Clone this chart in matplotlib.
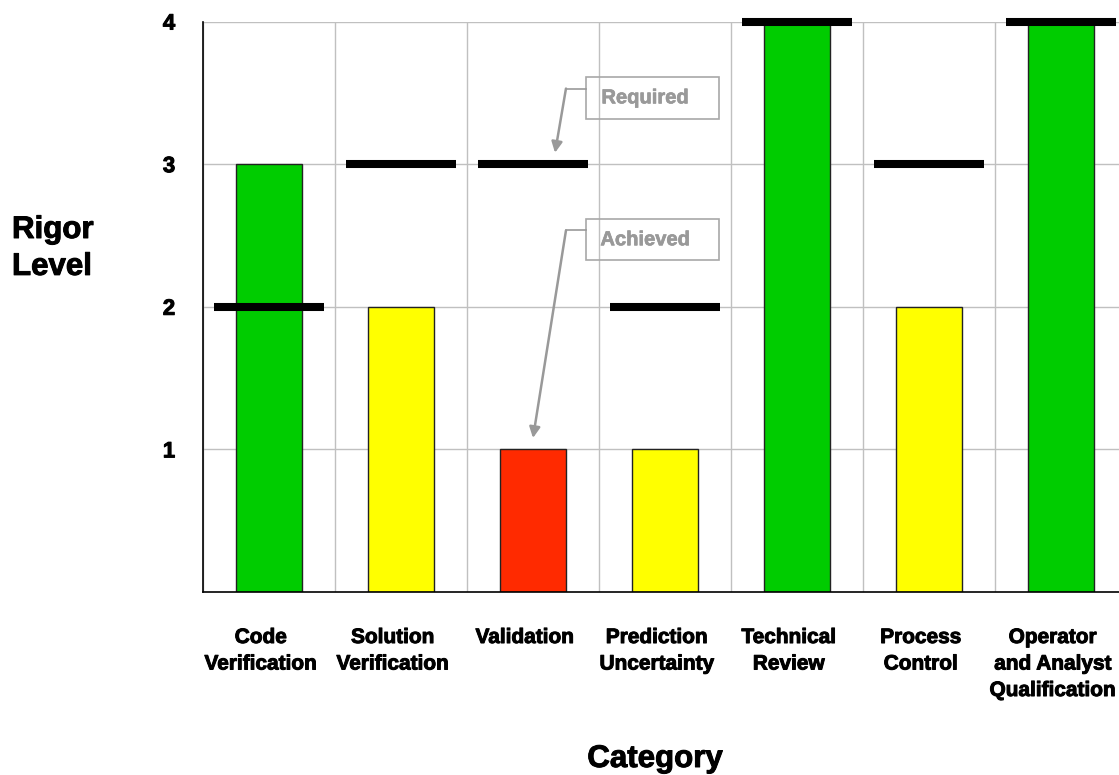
#!/usr/bin/env python3

import matplotlib
matplotlib.use("Agg")
import matplotlib.pyplot as plt
import matplotlib.patheffects as pe
import matplotlib.transforms as mtransforms
from matplotlib.patches import Rectangle
import numpy as np

plt.rcParams['font.family'] = ['Liberation Sans', 'DejaVu Sans']
plt.rcParams['font.weight'] = 'bold'

######################## data ##############################

categories = ["Code\nVerification", "Solution\nVerification", "Validation",
              "Prediction\nUncertainty", "Technical\nReview", "Process\nControl",
              "Operator\nand Analyst\nQualification"]
achieved = [3, 2, 1, 1, 4, 2, 4]
required = [2, 3, 3, 2, 4, 3, 4]

# bar colour follows the gap between required and achieved level
gap_colors = {0: "#00CC00", 1: "#FFFF00", 2: "#FF2A00"}

######################## plot ##############################

fig = plt.figure(figsize=(11.19, 7.75), dpi=100)
ax = fig.add_axes([0.1814, 0.2361, 0.8257, 0.7361])

x = np.arange(len(categories))
colors = [gap_colors[max(0, r - a)] for a, r in zip(achieved, required)]

ax.bar(x, achieved, width=0.5, color=colors, edgecolor="#222222",
       linewidth=1.0, zorder=2)
ax.hlines(required, x - 0.42, x + 0.42, colors="black", linewidth=5.8,
          zorder=3, clip_on=False)

ax.set_xlim(-0.5, len(categories) - 0.5)
ax.set_ylim(0, 4)

heavy = [pe.withStroke(linewidth=0.7, foreground="black")]

ax.set_yticks([1, 2, 3, 4])
ax.set_yticklabels(["1", "2", "3", "4"], fontsize=16, fontweight="bold")
for lab in ax.get_yticklabels():
    lab.set_path_effects(heavy)

# category labels: drawn as texts so they can sit a little left of centre
ax.set_xticks(x)
ax.set_xticklabels([])
ax.set_xticks(np.arange(len(categories) + 1) - 0.5, minor=True)
shift = mtransforms.ScaledTranslation(-8 / 100, -36 / 100, fig.dpi_scale_trans)
for xi, cat in zip(x, categories):
    ax.text(xi, 0, cat, transform=ax.get_xaxis_transform() + shift,
            fontsize=15, fontweight="bold", ha="center", va="top",
            linespacing=1.5, path_effects=heavy, clip_on=False)

ax.tick_params(axis="both", which="both", length=0)
ax.tick_params(axis="y", pad=20)

ax.grid(axis="y", which="major", color="#C0C0C0", linewidth=1.0, zorder=0)
ax.grid(axis="x", which="minor", color="#C0C0C0", linewidth=1.0, zorder=0)
ax.set_axisbelow(True)

for side in ["top", "right"]:
    ax.spines[side].set_visible(False)
ax.spines["left"].set_linewidth(1.2)
ax.spines["bottom"].set_linewidth(1.2)

fig.text(12 / 1119, 1 - 215 / 775, "Rigor\nLevel", fontsize=22.5,
         fontweight="bold", ha="left", va="top", linespacing=1.3,
         path_effects=heavy)
fig.text(655 / 1119, 1 - 767 / 775, "Category", fontsize=22.5,
         fontweight="bold", ha="center", va="baseline", path_effects=heavy)

######################## annotations ########################

gray = "#999999"
idx = 2  # Validation
notes = [("Required", 3.465, (idx + 0.167, required[idx] + 0.08)),
         ("Achieved", 2.47, (idx, achieved[idx] + 0.08))]
for label, yc, tip in notes:
    ax.add_patch(Rectangle((2.40, yc - 0.145), 1.01, 0.29, facecolor="none",
                           edgecolor="#A8A8A8", linewidth=1.2, zorder=4))
    ax.text(2.85, yc, label, color=gray, fontsize=14.5, fontweight="bold",
            ha="center", va="center", zorder=5,
            path_effects=[pe.withStroke(linewidth=0.5, foreground=gray)])
    ax.plot([2.40, 2.25], [yc + 0.065, yc + 0.065], color=gray,
            linewidth=1.2, zorder=4)
    ax.annotate("", xy=tip, xytext=(2.25, yc + 0.065),
                arrowprops=dict(arrowstyle="-|>", color=gray, lw=1.8,
                                mutation_scale=16, shrinkA=0, shrinkB=0),
                zorder=4)

plt.savefig("out.png", dpi=100)
